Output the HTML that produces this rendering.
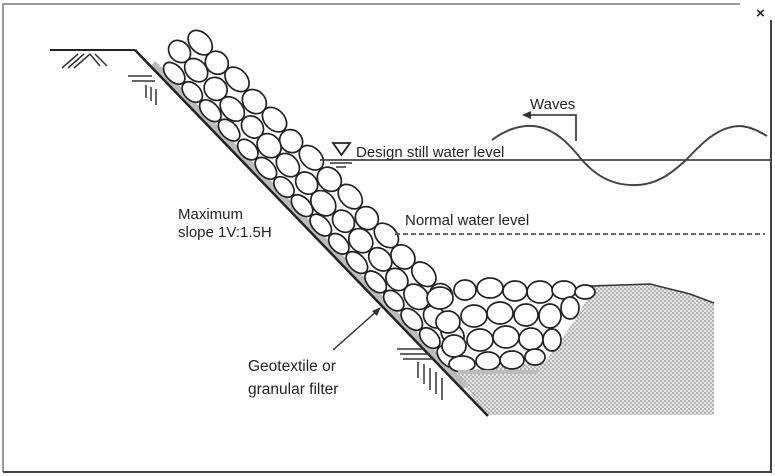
<!DOCTYPE html>
<html><head><meta charset="utf-8"><style>
html,body{margin:0;padding:0;background:#fff;}
svg{display:block;}
text{font-family:"Liberation Sans",sans-serif;fill:#222;}
</style></head><body>
<svg width="775" height="476" viewBox="0 0 775 476" xmlns="http://www.w3.org/2000/svg">
<defs>
<pattern id="dots" width="4" height="4" patternUnits="userSpaceOnUse">
<rect width="4" height="4" fill="#e4e4e4"/>
<circle cx="1" cy="1" r="0.9" fill="#8a8a8a"/><circle cx="3" cy="3" r="0.9" fill="#9a9a9a"/>
</pattern>
</defs>
<!-- frame -->
<polyline points="3,472 3,4 740,4" fill="none" stroke="#999" stroke-width="2"/>
<polyline points="771,20 771,472 3,472" fill="none" stroke="#444" stroke-width="2"/>
<text x="756" y="18" font-size="15" font-weight="bold" fill="#333">×</text>
<!-- sand -->
<polygon points="455,375 487,415 714,415 714,303 690,294 650,284 595,285 575,320 545,362 470,370" fill="url(#dots)"/>
<polyline points="590,286 650,284 690,294 714,303" fill="none" stroke="#333" stroke-width="1.5"/>
<!-- rocks along slope -->
<g transform="translate(135,50) rotate(46)">
<rect x="22" y="-7" width="450" height="6" fill="#bbb"/>
<g fill="#fff" stroke="#222" stroke-width="1.7">
<ellipse cx="40" cy="-52" rx="14" ry="10"/><ellipse cx="66" cy="-50" rx="12" ry="11"/><ellipse cx="92" cy="-53" rx="14" ry="10"/>
<ellipse cx="120" cy="-50" rx="13" ry="11"/><ellipse cx="147" cy="-52" rx="14" ry="10"/><ellipse cx="174" cy="-49" rx="12" ry="11"/>
<ellipse cx="200" cy="-52" rx="14" ry="10"/><ellipse cx="228" cy="-50" rx="13" ry="11"/><ellipse cx="255" cy="-53" rx="14" ry="10"/>
<ellipse cx="282" cy="-50" rx="12" ry="11"/><ellipse cx="308" cy="-52" rx="14" ry="10"/><ellipse cx="335" cy="-49" rx="13" ry="11"/>
<ellipse cx="362" cy="-52" rx="14" ry="10"/><ellipse cx="389" cy="-50" rx="12" ry="11"/>
<ellipse cx="32" cy="-31" rx="12" ry="10"/><ellipse cx="57" cy="-30" rx="13" ry="10"/><ellipse cx="84" cy="-31" rx="12" ry="11"/>
<ellipse cx="110" cy="-29" rx="14" ry="10"/><ellipse cx="137" cy="-31" rx="12" ry="10"/><ellipse cx="162" cy="-30" rx="13" ry="11"/>
<ellipse cx="189" cy="-30" rx="13" ry="10"/><ellipse cx="215" cy="-31" rx="12" ry="10"/><ellipse cx="241" cy="-29" rx="14" ry="11"/>
<ellipse cx="268" cy="-31" rx="12" ry="10"/><ellipse cx="294" cy="-30" rx="13" ry="11"/><ellipse cx="321" cy="-31" rx="13" ry="10"/>
<ellipse cx="347" cy="-29" rx="12" ry="10"/><ellipse cx="373" cy="-31" rx="14" ry="11"/><ellipse cx="400" cy="-30" rx="12" ry="10"/>
<ellipse cx="425" cy="-31" rx="13" ry="10"/>
<ellipse cx="44" cy="-12" rx="13" ry="8"/><ellipse cx="70" cy="-12" rx="12" ry="8"/><ellipse cx="96" cy="-12" rx="13" ry="8"/>
<ellipse cx="123" cy="-12" rx="13" ry="8"/><ellipse cx="150" cy="-12" rx="12" ry="8"/><ellipse cx="176" cy="-12" rx="13" ry="8"/>
<ellipse cx="202" cy="-12" rx="12" ry="8"/><ellipse cx="228" cy="-12" rx="13" ry="8"/><ellipse cx="255" cy="-12" rx="13" ry="8"/>
<ellipse cx="281" cy="-12" rx="12" ry="8"/><ellipse cx="307" cy="-12" rx="13" ry="8"/><ellipse cx="334" cy="-12" rx="13" ry="8"/>
<ellipse cx="360" cy="-12" rx="12" ry="8"/><ellipse cx="386" cy="-12" rx="13" ry="8"/><ellipse cx="412" cy="-12" rx="12" ry="8"/>
<ellipse cx="438" cy="-12" rx="13" ry="8"/>
</g>
</g>
<!-- toe rocks -->
<g fill="#fff" stroke="#222" stroke-width="1.7">
<ellipse cx="440" cy="298" rx="13" ry="11"/><ellipse cx="465" cy="290" rx="11" ry="10"/><ellipse cx="490" cy="288" rx="13" ry="10"/>
<ellipse cx="515" cy="291" rx="12" ry="10"/><ellipse cx="540" cy="292" rx="13" ry="11"/><ellipse cx="564" cy="290" rx="12" ry="9"/>
<ellipse cx="585" cy="292" rx="10" ry="7"/>
<ellipse cx="448" cy="322" rx="12" ry="11"/><ellipse cx="474" cy="316" rx="13" ry="11"/><ellipse cx="500" cy="313" rx="13" ry="11"/>
<ellipse cx="526" cy="315" rx="12" ry="11"/><ellipse cx="550" cy="316" rx="11" ry="12"/><ellipse cx="570" cy="308" rx="9" ry="11"/>
<ellipse cx="454" cy="346" rx="12" ry="11"/><ellipse cx="480" cy="340" rx="13" ry="11"/><ellipse cx="506" cy="337" rx="13" ry="11"/>
<ellipse cx="531" cy="339" rx="12" ry="11"/><ellipse cx="552" cy="340" rx="9" ry="11"/>
<ellipse cx="462" cy="364" rx="13" ry="8"/><ellipse cx="488" cy="361" rx="12" ry="9"/><ellipse cx="512" cy="360" rx="12" ry="9"/><ellipse cx="535" cy="357" rx="10" ry="8"/>
</g>
<rect x="458" y="370" width="80" height="4" fill="#bbb"/>
<!-- ground & slope -->
<line x1="50" y1="50" x2="135" y2="50" stroke="#222" stroke-width="2"/>
<line x1="135" y1="50" x2="488" y2="416" stroke="#222" stroke-width="2.5"/>
<!-- hatching -->
<g stroke="#333" stroke-width="1.5">
<line x1="62" y1="68" x2="78" y2="54"/><line x1="68" y1="68" x2="84" y2="54"/><line x1="74" y1="68" x2="90" y2="54"/>
<line x1="90" y1="54" x2="100" y2="66"/><line x1="95" y1="54" x2="107" y2="66"/>
<line x1="128" y1="76" x2="152" y2="76"/><line x1="132" y1="81" x2="155" y2="81"/>
<line x1="146" y1="85" x2="146" y2="98"/><line x1="151" y1="87" x2="151" y2="101"/><line x1="156" y1="89" x2="156" y2="105"/>
<line x1="397" y1="349" x2="425" y2="349"/><line x1="400" y1="354" x2="430" y2="354"/><line x1="403" y1="359" x2="433" y2="359"/>
<line x1="418" y1="362" x2="418" y2="378"/><line x1="424" y1="364" x2="424" y2="384"/><line x1="430" y1="368" x2="430" y2="390"/><line x1="436" y1="372" x2="436" y2="394"/><line x1="442" y1="378" x2="442" y2="400"/>
</g>
<!-- water -->
<line x1="320" y1="160" x2="772" y2="160" stroke="#444" stroke-width="1.8"/>
<polygon points="333,143 350,143 341.5,155" fill="none" stroke="#222" stroke-width="1.8"/>
<line x1="330" y1="163" x2="352" y2="163" stroke="#333" stroke-width="1.5"/>
<line x1="336" y1="167" x2="346" y2="167" stroke="#333" stroke-width="1.5"/>
<path d="M492,140 C505,130 520,125 533,126 C555,128 570,145 582,160 C598,178 615,186 637,185 C660,184 675,170 686,160 C700,145 718,126 740,126 C752,127 760,132 767,136" fill="none" stroke="#444" stroke-width="2"/>
<polyline points="576,141 576,115 530,115" fill="none" stroke="#444" stroke-width="1.8"/>
<polygon points="522,115 531,111 531,119" fill="#333"/>
<line x1="395" y1="234" x2="765" y2="234" stroke="#555" stroke-width="1.8" stroke-dasharray="5,3"/>
<!-- leader -->
<line x1="333" y1="350" x2="378" y2="310" stroke="#333" stroke-width="1.5"/>
<polygon points="381,307 372,311 377,316" fill="#333"/>
<!-- labels -->
<text x="530" y="109" font-size="15">Waves</text>
<text x="356" y="157" font-size="15">Design still water level</text>
<text x="405" y="225" font-size="15">Normal water level</text>
<text x="178" y="219" font-size="15">Maximum</text>
<text x="178" y="237" font-size="15">slope 1V:1.5H</text>
<text x="248" y="371" font-size="15.5">Geotextile or</text>
<text x="248" y="394" font-size="15.5">granular filter</text>
</svg>
</body></html>
